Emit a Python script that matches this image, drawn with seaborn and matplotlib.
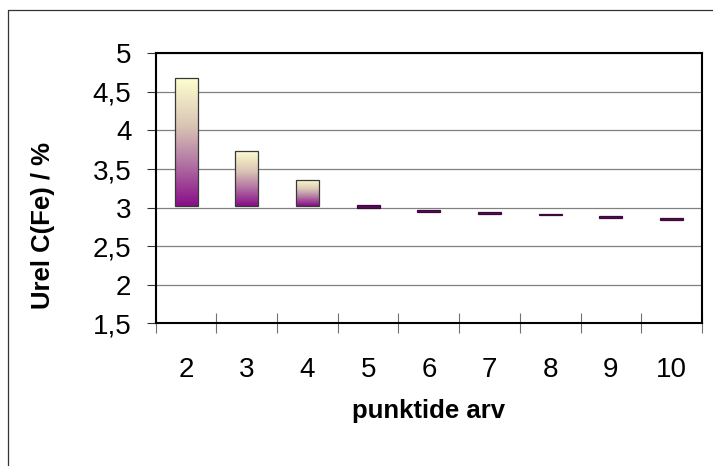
import numpy as np
import pandas as pd
import matplotlib
matplotlib.use("Agg")
import matplotlib.pyplot as plt
from matplotlib.colors import LinearSegmentedColormap
from matplotlib.lines import Line2D
import seaborn as sns

# number of points in the fit and the resulting relative uncertainty range
categories = ["2", "3", "4", "5", "6", "7", "8", "9", "10"]
upper = [4.68, 3.74, 3.36, 3.028, 2.972, 2.942, 2.922, 2.892, 2.867]
lower = [3.02, 3.02, 3.02, 3.0, 2.948, 2.918, 2.898, 2.868, 2.843]
y_ticks = [1.5, 2.0, 2.5, 3.0, 3.5, 4.0, 4.5, 5.0]
y_tick_labels = ["1,5", "2", "2,5", "3", "3,5", "4", "4,5", "5"]
x_title = "punktide arv"
y_title = "Urel C(Fe) / %"

sns.set_style("white")
plt.rcParams["font.family"] = ["Liberation Sans", "DejaVu Sans"]
plt.rcParams["text.color"] = "black"
plt.rcParams["axes.labelcolor"] = "black"
plt.rcParams["xtick.color"] = "black"
plt.rcParams["ytick.color"] = "black"

df = pd.DataFrame({
    "n": categories,
    "span": np.array(upper) - np.array(lower),
})

W, H = 713, 466
fig = plt.figure(figsize=(W / 100, H / 100), dpi=100)
ax = fig.add_axes([155.7 / W, 1 - 323.3 / H, (702 - 155.7) / W, (323.3 - 53.3) / H])

sns.barplot(data=df, x="n", y="span", bottom=np.array(lower), width=0.38,
            color="#8B1E8B", edgecolor="#383838", linewidth=0.9, ax=ax,
            zorder=3)

# vertical purple-to-light-yellow fill inside every bar
grad_cmap = LinearSegmentedColormap.from_list(
    "bar_fill",
    [(0.0, "#880D88"), (0.35, "#B57AA5"), (0.62, "#D9C4B4"), (1.0, "#FFFFD0")])
gradient = np.linspace(0, 1, 256).reshape(-1, 1)
for patch in ax.patches:
    x0, y0 = patch.get_x(), patch.get_y()
    w, h = patch.get_width(), patch.get_height()
    if h < 0.05:
        # very short bars read as a solid dark purple dash
        patch.set_facecolor("#5A0A5A")
        patch.set_edgecolor("#3A0A3A")
        continue
    img = ax.imshow(gradient, cmap=grad_cmap, origin="lower", aspect="auto",
                    extent=[x0, x0 + w, y0, y0 + h], zorder=2.5,
                    interpolation="bilinear")
    img.set_clip_path(patch)
    patch.set_facecolor("none")

ax.set_xlim(-0.5, len(categories) - 0.5)
ax.set_ylim(y_ticks[0], y_ticks[-1])

# y axis
ax.set_yticks(y_ticks, labels=y_tick_labels)
ax.tick_params(axis="y", which="major", direction="out", length=6.5,
               width=0.8, color="#333333", labelcolor="black", labelsize=20,
               pad=11, left=True)
ax.yaxis.grid(True, color="#808080", linewidth=0.9)
ax.set_axisbelow(True)

# x axis: tick marks between groups, labels centred on groups
boundaries = np.arange(-0.5, len(categories), 1.0)
ax.set_xticks(boundaries, labels=[""] * len(boundaries))
ax.set_xticks(np.arange(len(categories)), labels=categories, minor=True)
ax.tick_params(axis="x", which="major", direction="inout", length=15,
               width=0.8, color="#707070", bottom=True)
ax.tick_params(axis="x", which="minor", length=0, labelsize=20, pad=24,
               labelcolor="black")
ax.xaxis.grid(False)

for side in ["left", "right", "top", "bottom"]:
    ax.spines[side].set_visible(True)
    ax.spines[side].set_color("black")
    ax.spines[side].set_linewidth(1.5)

ax.set_xlabel(x_title, fontsize=18.5, fontweight="bold", color="black")
ax.set_ylabel(y_title, fontsize=18.5, fontweight="bold", color="black")
ax.xaxis.set_label_coords(0.5, -0.28)
ax.yaxis.set_label_coords(-0.185, 0.362)

# outer chart frame
fx, fy = 7.7 / W, 1 - 10 / H
fig.add_artist(Line2D([fx, fx], [0, fy], transform=fig.transFigure,
                      color="#333333", linewidth=0.9))
fig.add_artist(Line2D([fx, 1], [fy, fy], transform=fig.transFigure,
                      color="#333333", linewidth=0.9))

fig.savefig("out.png", dpi=100, facecolor="white")
